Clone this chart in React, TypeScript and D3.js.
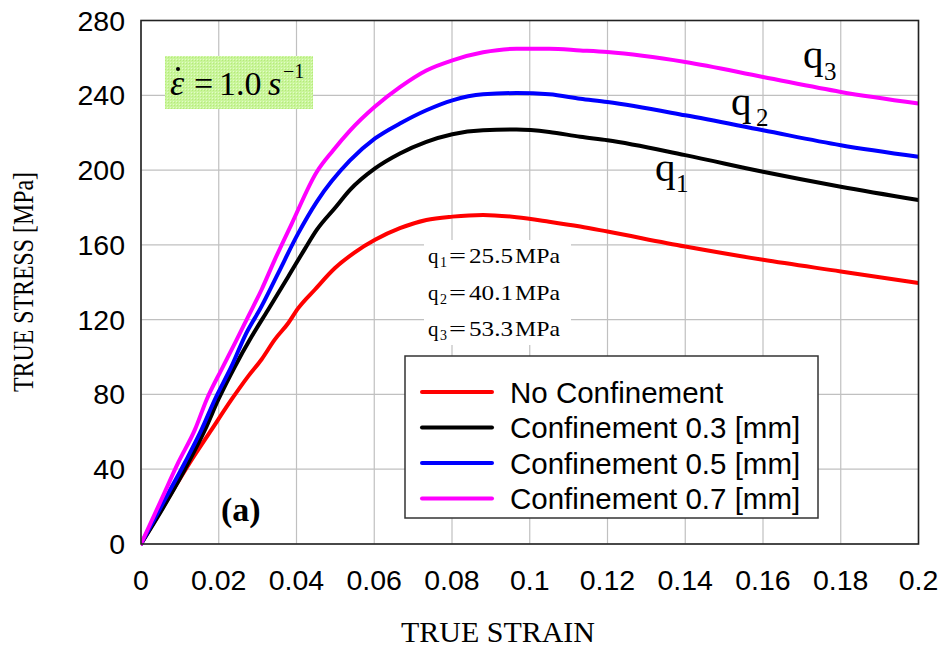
import React from "react";
import * as d3 from "d3";

// ---- Data ----
const xTickValues = [0, 0.02, 0.04, 0.06, 0.08, 0.1, 0.12, 0.14, 0.16, 0.18, 0.2];
const xTickLabels = ["0", "0.02", "0.04", "0.06", "0.08", "0.1", "0.12", "0.14", "0.16", "0.18", "0.2"];
const yTickValues = [0, 40, 80, 120, 160, 200, 240, 280];

const seriesNames = ["No Confinement", "Confinement 0.3 [mm]", "Confinement 0.5 [mm]", "Confinement 0.7 [mm]"];
const seriesColors = ["#ff0000", "#000000", "#0000ff", "#ff00ff"];

const strainNoConf = [0, 0.0079, 0.0126, 0.0182, 0.0233, 0.0276, 0.031, 0.0344, 0.0379, 0.0404, 0.0447, 0.0499, 0.055, 0.0602, 0.0666, 0.0734, 0.0801, 0.088, 0.0966, 0.105, 0.113, 0.12, 0.14, 0.16, 0.18, 0.2];
const stressNoConf = [0, 27.6, 43.6, 61.3, 77.3, 89.8, 98.7, 109.3, 118.2, 126, 136, 147.6, 156, 162.7, 168.9, 173.3, 175.1, 176, 174.8, 172.4, 169.8, 167.1, 159.1, 152, 145.8, 139.6];

const strainConf03 = [0, 0.007, 0.0122, 0.0165, 0.0199, 0.0242, 0.0285, 0.0327, 0.0379, 0.0422, 0.0452, 0.05, 0.0537, 0.0602, 0.0666, 0.0734, 0.0801, 0.088, 0.0966, 0.105, 0.113, 0.12, 0.14, 0.16, 0.18, 0.2];
const stressConf03 = [0, 24, 43.6, 61.3, 77.3, 95.1, 111.1, 125.3, 143.1, 158, 168, 180, 189.3, 200.9, 208.9, 215.1, 219.2, 221.3, 221.7, 220.4, 217.8, 216, 208, 199.1, 191.1, 184];

const strainConf05 = [0, 0.0062, 0.0113, 0.0156, 0.019, 0.0233, 0.0267, 0.031, 0.0353, 0.0404, 0.0452, 0.0537, 0.0602, 0.0666, 0.0734, 0.0801, 0.088, 0.0966, 0.105, 0.113, 0.12, 0.14, 0.16, 0.18, 0.2];
const stressConf05 = [0, 24, 43.6, 61.3, 77.3, 95.1, 111.1, 127.1, 144.9, 166, 183, 205, 216.9, 224.9, 232, 237.3, 240.5, 241.2, 240.5, 238.2, 236.4, 229.3, 221.3, 213.3, 207.1];

const strainConf07 = [0, 0.0053, 0.0096, 0.0139, 0.0169, 0.0207, 0.0242, 0.0276, 0.031, 0.0344, 0.0387, 0.0452, 0.0494, 0.0537, 0.0602, 0.0666, 0.0734, 0.0801, 0.088, 0.0966, 0.105, 0.113, 0.12, 0.14, 0.16, 0.18, 0.2];
const stressConf07 = [0, 24, 43.6, 61.3, 77.3, 93.3, 107.6, 121.8, 136, 152, 171, 199, 210.5, 221, 234, 244.4, 253.3, 258.7, 263, 264.9, 264.9, 264, 263.1, 257.8, 249.8, 241.8, 235.6];

const seriesStrain = [strainNoConf, strainConf03, strainConf05, strainConf07];
const seriesStress = [stressNoConf, stressConf03, stressConf05, stressConf07];

const qValues = ["25.5", "40.1", "53.3"];

// ---- Layout ----
const W = 945;
const H = 649;
const left = 141;
const right = 918.5;
const top = 20.5;
const bottom = 544;

const SANS = "'Liberation Sans', Arial, sans-serif";
const SERIF = "'Liberation Serif', 'Times New Roman', serif";

export default function App() {
  const x = d3.scaleLinear().domain([0, 0.2]).range([left, right]);
  const y = d3.scaleLinear().domain([0, 280]).range([bottom, top]);
  const line = d3
    .line<[number, number]>()
    .x((d) => x(d[0]))
    .y((d) => y(d[1]))
    .curve(d3.curveMonotoneX);

  const paths = seriesStrain.map((xs, i) =>
    line(xs.map((v, j) => [v, seriesStress[i][j]] as [number, number]))
  );

  const legendRowY = (i: number) => 392 + i * 35.5;
  const qLineBase = [263, 300, 336];

  return (
    <div style={{ position: "absolute", left: 0, top: 0 }}>
      <svg width={W} height={H} style={{ display: "block", background: "#fff" }}>
        <defs>
          <pattern id="greenTex" width="3" height="3" patternUnits="userSpaceOnUse">
            <rect width="3" height="3" fill="#c9f59a" />
            <rect width="1" height="1" fill="#b5ea7a" />
            <rect x="2" y="2" width="1" height="1" fill="#e2fcc8" />
          </pattern>
          <clipPath id="plotClip">
            <rect x={left} y={top} width={right - left} height={bottom - top + 4} />
          </clipPath>
        </defs>

        {/* grid */}
        {xTickValues.map((v, i) => (
          <line key={"gx" + i} x1={x(v)} x2={x(v)} y1={top} y2={bottom} stroke="#c0c0c0" strokeWidth={1.2} />
        ))}
        {yTickValues.map((v, i) => (
          <line key={"gy" + i} x1={left} x2={right} y1={y(v)} y2={y(v)} stroke="#c0c0c0" strokeWidth={1.2} />
        ))}

        {/* annotation box */}
        <rect x={165} y={56} width={148} height={53} fill="url(#greenTex)" />
        <text x={170} y={95} fontFamily={SERIF} fontStyle="italic" fontSize={36} fill="#000">ε</text>
        <circle cx={178} cy={69} r={2} fill="#000" />
        <text x={194} y={95} fontFamily={SERIF} fontSize={34} fill="#000">=</text>
        <text x={219} y={95} fontFamily={SERIF} fontSize={34} fill="#000">1.0</text>
        <text x={268} y={95} fontFamily={SERIF} fontStyle="italic" fontSize={34} fill="#000">s</text>
        <text x={283} y={78} fontFamily={SERIF} fontSize={20} fill="#000">−1</text>

        {/* q value box */}
        <rect x={424} y={240} width={147} height={105} fill="#fff" />
        {qValues.map((v, i) => (
          <text key={"qv" + i} y={qLineBase[i]} fontFamily={SERIF} fontSize={21} fill="#000">
            <tspan x={428}>q</tspan>
            <tspan x={440} dy={4} fontSize={14}>{String(i + 1)}</tspan>
            <tspan x={449} dy={-4} textLength={17} lengthAdjust="spacingAndGlyphs">=</tspan>
            <tspan x={469} textLength={44} lengthAdjust="spacingAndGlyphs">{v}</tspan>
            <tspan x={515} textLength={45} lengthAdjust="spacingAndGlyphs">MPa</tspan>
          </text>
        ))}

        {/* curves */}
        <g clipPath="url(#plotClip)">
          {paths.map((d, i) => (
            <path key={"s" + i} d={d || ""} fill="none" stroke={seriesColors[i]} strokeWidth={4} strokeLinejoin="round" strokeLinecap="round" />
          ))}
        </g>

        {/* frame */}
        <rect x={left} y={top} width={right - left} height={bottom - top} fill="none" stroke="#222" strokeWidth={1.6} />

        {/* curve labels */}
        <text x={803} y={68} fontFamily={SERIF} fontSize={41} fill="#000">q</text>
        <text x={824} y={80} fontFamily={SERIF} fontSize={25} fill="#000">3</text>
        <text x={731} y={115} fontFamily={SERIF} fontSize={41} fill="#000">q</text>
        <text x={756} y={126} fontFamily={SERIF} fontSize={25} fill="#000">2</text>
        <text x={655} y={181} fontFamily={SERIF} fontSize={41} fill="#000">q</text>
        <text x={676} y={192} fontFamily={SERIF} fontSize={25} fill="#000">1</text>

        {/* (a) */}
        <text x={221} y={521} fontFamily={SERIF} fontWeight="bold" fontSize={34} fill="#000">(a)</text>

        {/* legend */}
        <rect x={405} y={356} width={413} height={162} fill="#fff" stroke="#333" strokeWidth={1.5} />
        {seriesNames.map((n, i) => (
          <g key={"lg" + i}>
            <line x1={422} x2={492} y1={legendRowY(i)} y2={legendRowY(i)} stroke={seriesColors[i]} strokeWidth={4} strokeLinecap="round" />
            <text x={510} y={legendRowY(i)} dominantBaseline="central" fontFamily={SANS} fontSize={29.5} fill="#000">{n}</text>
          </g>
        ))}

        {/* tick labels */}
        {yTickValues.map((v, i) => (
          <text key={"yl" + i} x={125} y={y(v)} textAnchor="end" dominantBaseline="central" fontFamily={SANS} fontSize={28.5} fill="#000">{String(v)}</text>
        ))}
        {xTickValues.map((v, i) => (
          <text key={"xl" + i} x={x(v)} y={590} textAnchor="middle" fontFamily={SANS} fontSize={28.5} fill="#000">{xTickLabels[i]}</text>
        ))}

        {/* axis titles */}
        <text x={498} y={642} textAnchor="middle" fontFamily={SERIF} fontSize={29} textLength={194} lengthAdjust="spacingAndGlyphs" fill="#000">TRUE STRAIN</text>
        <text transform="translate(33,282) rotate(-90)" textAnchor="middle" fontFamily={SERIF} fontSize={29} textLength={220} lengthAdjust="spacingAndGlyphs" fill="#000">TRUE STRESS [MPa]</text>
      </svg>
    </div>
  );
}
